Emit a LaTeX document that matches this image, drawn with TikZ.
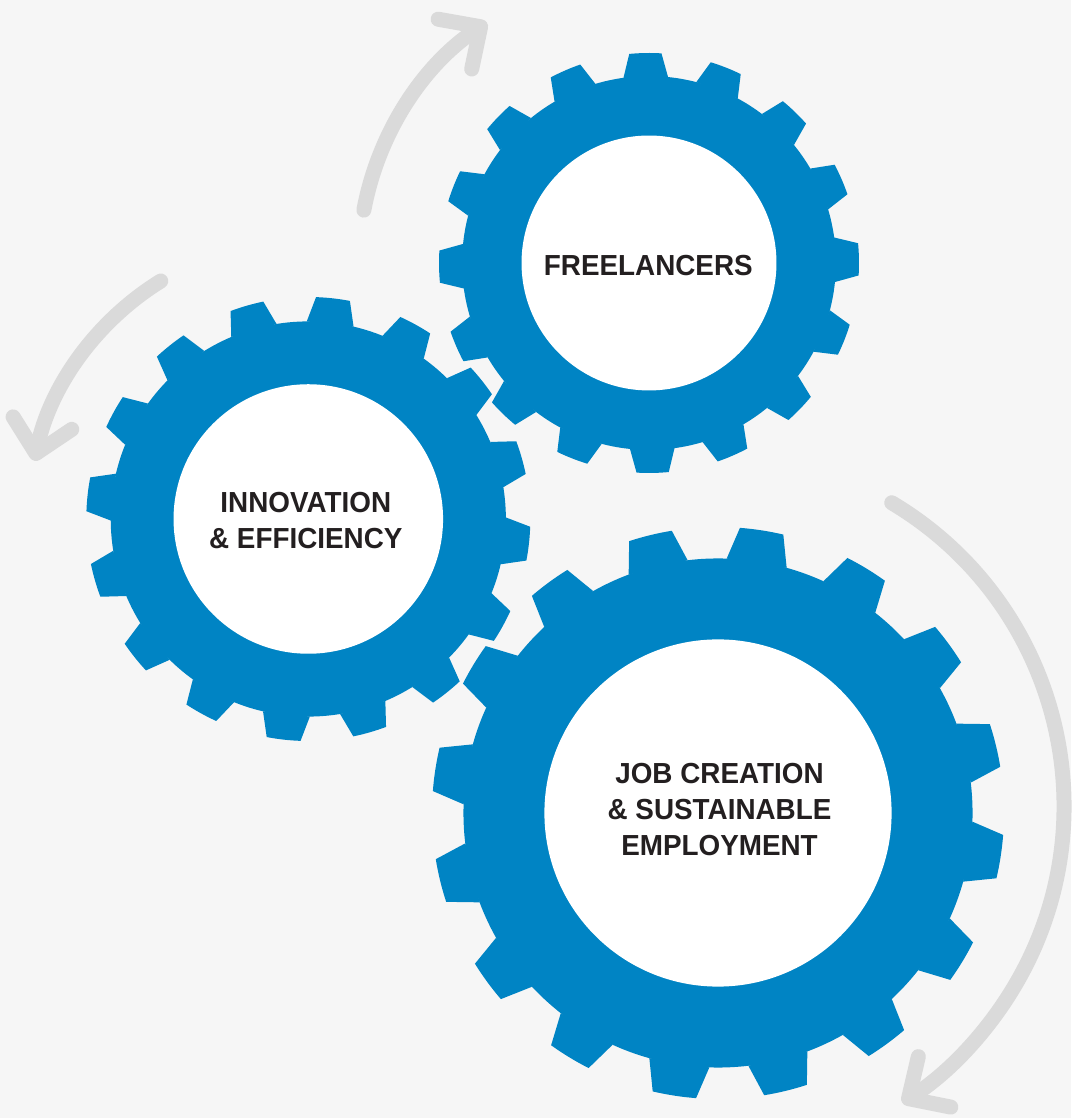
\documentclass[tikz,border=0pt]{standalone}
\usepackage{fontspec}
\setmainfont{Liberation Sans}[FakeStretch=0.96]
\usetikzlibrary{arrows.meta}

\definecolor{gearblue}{RGB}{0,132,196}
\definecolor{backgray}{RGB}{246,246,246}
\definecolor{arrowgray}{RGB}{218,218,218}
\definecolor{labelblack}{RGB}{35,31,32}

% gear with 16 teeth: centre, tip radius, angle of first tooth
\newcommand{\drawgear}[3]{%
  \fill[gearblue] (#1) circle (0.89*#2);
  \foreach \t in {0,...,15} {
    \pgfmathsetmacro{\a}{#3+22.5*\t}
    \fill[gearblue] ([shift={(\a-6.85:0.89*#2)}]#1) -- ([shift={(\a-4.4:#2)}]#1)
      arc[start angle=\a-4.4, end angle=\a+4.4, radius=#2]
      -- ([shift={(\a+6.85:0.89*#2)}]#1) -- cycle;
  }
}

\begin{document}
\begin{tikzpicture}[
    x=1pt, y=1pt,
    cyclearrow/.style={draw=arrowgray, line width=15pt, line cap=round,
      -{Straight Barb[length=31pt,width=60pt,round]}},
    gearlabel/.style={font=\fontsize{29}{36.3}\selectfont\bfseries,
      text=labelblack, align=center, inner sep=0pt}
    ]

    % background:
    \useasboundingbox (0,0) rectangle (1071,1118);
    \fill[backgray] (0,0) rectangle (1071,1118);

    % gear centres:
    \coordinate (topgear) at (649,855);
    \coordinate (leftgear) at (308.3,599);
    \coordinate (biggear) at (718,305);

    % gears:
    \drawgear{topgear}{210}{1}
    \drawgear{leftgear}{222}{16.1}
    \drawgear{biggear}{286}{13.7}

    % holes:
    \fill[white] (topgear) circle (0.607*210);
    \fill[white] (leftgear) circle (0.607*222);
    \fill[white] (biggear) circle (0.607*286);

    % labels:
    \node (freelancers) at (648.3,852.5) [gearlabel] {FREELANCERS};
    \node (innovation) at (305.8,597.5) [gearlabel] {INNOVATION\\\& EFFICIENCY};
    \node (jobs) at (719.5,308.5) [gearlabel] {JOB CREATION\\\& SUSTAINABLE\\EMPLOYMENT};

    % turning arrows:
    \draw[cyclearrow] ([shift={(169.5:290)}]topgear) arc[start angle=169.5, end angle=124, radius=290];
    \draw[cyclearrow] ([shift={(121.8:280)}]leftgear) arc[start angle=121.8, end angle=168, radius=280];
    \draw[cyclearrow] ([shift={(59.2:353)}]711,312) arc[start angle=59.2, end angle=-57.2, radius=353];

\end{tikzpicture}
\end{document}
